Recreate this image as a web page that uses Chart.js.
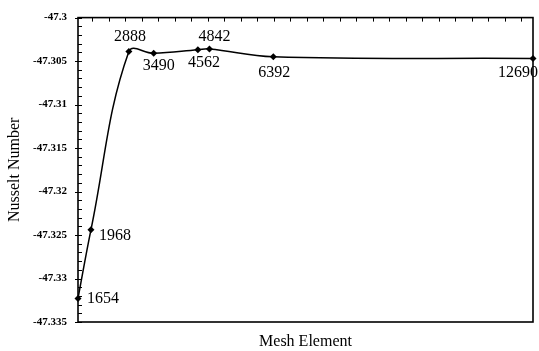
<!DOCTYPE html>
<html>
<head>
<meta charset="utf-8">
<script src="https://cdn.jsdelivr.net/npm/chart.js@4/dist/chart.umd.min.js"></script>
<style>
  html, body { margin: 0; padding: 0; background: #fff; }
  canvas { display: block; }
</style>
</head>
<body>
<canvas id="c" width="539" height="351"></canvas>
<script>
// ---- data ----
const meshElements = [1654, 1968, 2888, 3490, 4562, 4842, 6392, 12690];
const nusselt = [-47.3323, -47.3244, -47.3039, -47.3041, -47.3037, -47.3036, -47.3045, -47.3047];
const pointLabels = ['1654', '1968', '2888', '3490', '4562', '4842', '6392', '12690'];
const yTickValues = [-47.3, -47.305, -47.31, -47.315, -47.32, -47.325, -47.33, -47.335];
const yTickLabels = ['-47.3', '-47.305', '-47.31', '-47.315', '-47.32', '-47.325', '-47.33', '-47.335'];
const xTitle = 'Mesh Element';
const yTitle = 'Nusselt Number';

// ---- styles ----
const SERIF = '"Liberation Serif", "Times New Roman", serif';
const labelOffsets = [[9, 0, 'left'], [8, 6, 'left'], [1, -15, 'center'], [5, 13, 'center'],
                      [6, 13, 'center'], [5, -12, 'center'], [1, 16, 'center'], [-15, 14, 'center']];

const frame = {
  id: 'frame',
  afterDatasetsDraw(chart) {
    const ctx = chart.ctx, a = chart.chartArea;
    const x = chart.scales.x, y = chart.scales.y;
    ctx.save();
    ctx.strokeStyle = '#000';
    ctx.lineWidth = 1;
    // left minor/major ticks every 0.001
    for (let k = 0; k <= 35; k++) {
      const v = -47.335 + k * 0.001;
      const py = Math.round(y.getPixelForValue(v)) + 0.5;
      ctx.beginPath();
      if (k % 5 === 0) { ctx.moveTo(a.left - 3, py); ctx.lineTo(a.left + 4, py); }
      else { ctx.moveTo(a.left, py); ctx.lineTo(a.left + 4, py); }
      ctx.stroke();
    }
    // top ticks every 400
    for (let v = 2000; v < x.max; v += 400) {
      const px = Math.round(x.getPixelForValue(v)) + 0.5;
      ctx.beginPath(); ctx.moveTo(px, a.top); ctx.lineTo(px, a.top + 4); ctx.stroke();
    }
    // frame
    ctx.lineWidth = 1.6;
    ctx.strokeRect(a.left, a.top, a.right - a.left, a.bottom - a.top);
    // point labels
    ctx.fillStyle = '#000';
    ctx.font = '16px ' + SERIF;
    ctx.textBaseline = 'middle';
    const meta = chart.getDatasetMeta(0);
    meta.data.forEach((pt, i) => {
      const o = labelOffsets[i];
      ctx.textAlign = o[2];
      ctx.fillText(pointLabels[i], pt.x + o[0], pt.y + o[1]);
    });
    ctx.restore();
  }
};

new Chart(document.getElementById('c'), {
  type: 'line',
  data: {
    datasets: [{
      data: meshElements.map((m, i) => ({ x: m, y: nusselt[i] })),
      borderColor: '#000',
      backgroundColor: '#000',
      borderWidth: 1.5,
      tension: 0.4,
      pointStyle: 'rectRot',
      pointRadius: 3.5,
      pointBorderWidth: 0,
      clip: false
    }]
  },
  options: {
    responsive: false,
    animation: false,
    devicePixelRatio: 1,
    layout: { padding: { top: 13, right: 6, left: 0, bottom: 0 } },
    plugins: { legend: { display: false }, tooltip: { enabled: false } },
    scales: {
      x: {
        type: 'linear',
        min: 1654, max: 12690,
        grid: { display: false, drawTicks: false },
        border: { display: false },
        ticks: { display: false },
        title: { display: true, text: xTitle, color: '#000',
                 font: { family: SERIF, size: 16 }, padding: { top: 0, bottom: 0 } },
        afterFit(s) { s.height = 29; }
      },
      y: {
        min: -47.335, max: -47.3,
        grid: { display: false, drawTicks: false },
        border: { display: false },
        afterBuildTicks(s) { s.ticks = yTickValues.map(v => ({ value: v })); },
        ticks: {
          color: '#000', padding: 11,
          font: { family: SERIF, size: 11, weight: 'bold' },
          callback: (v, i) => yTickLabels[i]
        },
        title: { display: true, text: yTitle, color: '#000',
                 font: { family: SERIF, size: 16 }, padding: { top: 5, bottom: 0 } },
        afterFit(s) { s.width = 78; }
      }
    }
  },
  plugins: [frame]
});
</script>
</body>
</html>
